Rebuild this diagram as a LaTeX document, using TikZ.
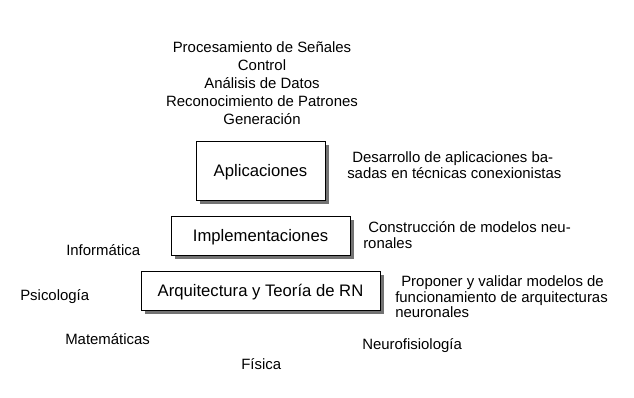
\documentclass[tikz,border=0pt]{standalone}
\usepackage{fontspec}
\setmainfont{Liberation Sans}
\usetikzlibrary{shadows}
\begin{document}
\begin{tikzpicture}[x=0.75pt,y=-0.75pt,
  layer/.style={draw=black,line width=0.6pt,fill=white,inner sep=0pt,text depth=0pt,
    font=\fontsize{12.5}{15}\selectfont,
    drop shadow={shadow xshift=3.2pt,shadow yshift=-3.2pt,fill=black!55,opacity=1}},
  field/.style={inner sep=0pt,font=\fontsize{11.2}{13}\selectfont},
  note/.style={inner sep=0pt,align=left,anchor=west,font=\fontsize{11.2}{11.6}\selectfont},
  uses/.style={inner sep=0pt,align=center,font=\fontsize{11.2}{13.5}\selectfont}]
\useasboundingbox (0,0) rectangle (634,398);

% the three layers of the pyramid
\node[layer,minimum width=129*0.75pt,minimum height=59*0.75pt] (apl) at (260.5,170.5) {Aplicaciones};
\node[layer,minimum width=179*0.75pt,minimum height=39*0.75pt] (imp) at (260.5,235.5) {Implementaciones};
\node[layer,minimum width=239*0.75pt,minimum height=39*0.75pt] (arq) at (260.5,290.5) {Arquitectura y Teoría de RN};

% application areas above the top layer
\node[uses] (areas) at (262,83.5) {Procesamiento de Señales\\Control\\Análisis de Datos\\Reconocimiento de Patrones\\Generación};

% descriptions to the right of each layer
\node[note] (dapl) at (347,165) {\hspace{3.75pt}Desarrollo de aplicaciones ba-\\sadas en técnicas conexionistas};
\node[note] (dimp) at (363,235) {\hspace{3.75pt}Construcción de modelos neu-\\ronales};
\node[note] (darq) at (395,297) {\hspace{4.5pt}Proponer y validar modelos de\\funcionamiento de arquitecturas\\neuronales};

% contributing disciplines
\node[field,anchor=west] (inf) at (66,250.5) {Informática};
\node[field,anchor=west] (psi) at (20,296.5) {Psicología};
\node[field,anchor=west] (mat) at (65,339.5) {Matemáticas};
\node[field,anchor=west] (fis) at (241,364.5) {Física};
\node[field,anchor=west] (neu) at (362,345.5) {Neurofisiología};
\end{tikzpicture}
\end{document}
